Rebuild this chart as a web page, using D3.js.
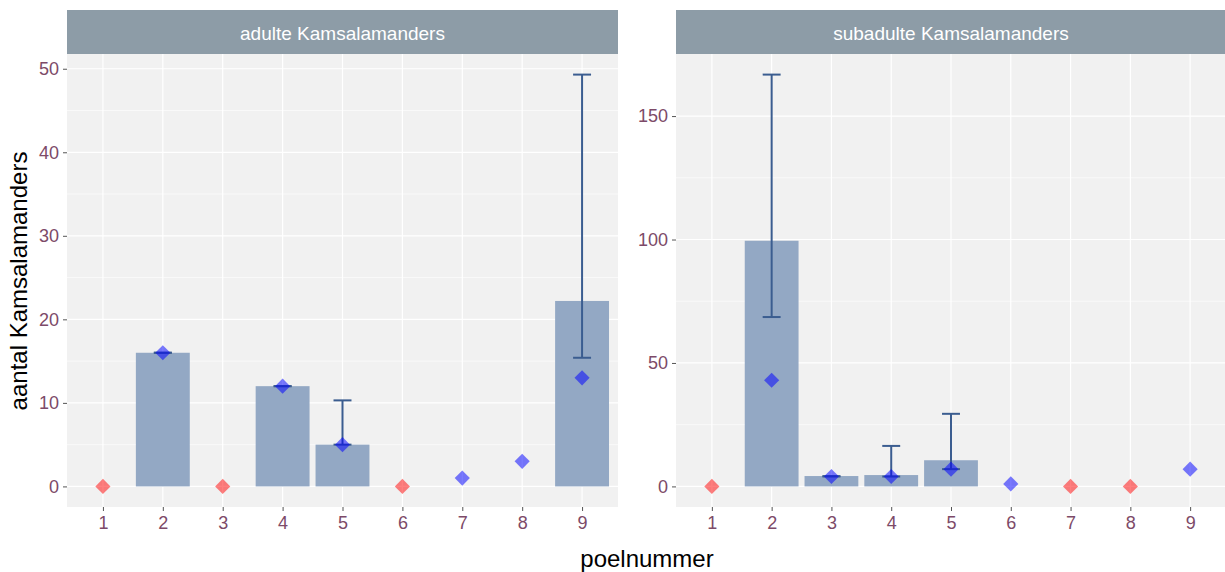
<!DOCTYPE html>
<html><head><meta charset="utf-8">
<script src="https://cdn.jsdelivr.net/npm/d3@7"></script>
<style>body{margin:0;background:#fff}svg{display:block}text{font-family:"Liberation Sans",Arial,sans-serif}</style>
</head><body>
<svg id="c" width="1225" height="572"></svg>
<script>
const poel = [1,2,3,4,5,6,7,8,9];
const panelTitles = ["adulte Kamsalamanders", "subadulte Kamsalamanders"];
const adultBar   = [0, 16, 0, 12, 5, 0, 0, 0, 22.2];
const adultLow   = [null, 16, null, 12, 5, null, null, null, 15.4];
const adultHigh  = [null, 16, null, 12, 10.3, null, null, null, 49.3];
const adultCount = [0, 16, 0, 12, 5, 0, 1, 3, 13];
const subBar   = [0, 99.5, 4.2, 4.6, 10.6, 0, 0, 0, 0];
const subLow   = [null, 68.6, 4.1, 4, 7, null, null, null, null];
const subHigh  = [null, 166.8, 4.1, 16.4, 29.4, null, null, null, null];
const subCount = [0, 43, 4, 4, 7, 1, 0, 0, 7];
const adultTicks = [0,10,20,30,40,50];
const adultMinor = [5,15,25,35,45];
const subTicks = [0,50,100,150];
const subMinor = [25,75,125];

(function(){
const svg = d3.select("#c");
const pTop = 54, pBottom = 507;
const panels = [
  {x0:67, x1:618, title:panelTitles[0], bar:adultBar, lo:adultLow, hi:adultHigh, cnt:adultCount, ticks:adultTicks, minor:adultMinor},
  {x0:676, x1:1226, title:panelTitles[1], bar:subBar, lo:subLow, hi:subHigh, cnt:subCount, ticks:subTicks, minor:subMinor}
];
const labCol = "#7d4a68";
panels.forEach(p => {
  const ymax = d3.max(p.hi.concat(p.bar, p.cnt).filter(v => v != null));
  const pad = ymax * 0.05;
  const y = d3.scaleLinear().domain([-pad, ymax + pad]).range([pBottom, pTop]);
  const x = d3.scaleLinear().domain([0.4, 9.6]).range([p.x0, p.x1]);
  const g = svg.append("g");
  g.append("rect").attr("x", p.x0).attr("y", pTop).attr("width", p.x1 - p.x0).attr("height", pBottom - pTop).attr("fill", "#f1f1f1");
  g.append("rect").attr("x", p.x0).attr("y", 10).attr("width", p.x1 - p.x0).attr("height", pTop - 10).attr("fill", "#8d9ca7");
  g.append("text").attr("x", (p.x0 + p.x1) / 2).attr("y", 33).attr("dy", "0.35em").attr("text-anchor", "middle")
    .attr("fill", "#fff").attr("font-size", 19).text(p.title);
  g.selectAll(".mi").data(p.minor).join("line").attr("x1", p.x0).attr("x2", p.x1)
    .attr("y1", d => y(d)).attr("y2", d => y(d)).attr("stroke", "#fff").attr("stroke-width", 0.6);
  g.selectAll(".ma").data(p.ticks).join("line").attr("x1", p.x0).attr("x2", p.x1)
    .attr("y1", d => y(d)).attr("y2", d => y(d)).attr("stroke", "#fff").attr("stroke-width", 1.2);
  g.selectAll(".vx").data(poel).join("line").attr("x1", d => x(d)).attr("x2", d => x(d))
    .attr("y1", pTop).attr("y2", pBottom).attr("stroke", "#fff").attr("stroke-width", 1.2);
  const ya = d3.axisLeft(y).tickValues(p.ticks).tickSize(4).tickPadding(4);
  const yg = g.append("g").attr("transform", `translate(${p.x0},0)`).call(ya);
  yg.select(".domain").remove();
  yg.selectAll(".tick line").attr("stroke", "#555");
  yg.selectAll(".tick text").attr("fill", labCol).attr("font-size", 18).attr("font-family", "Liberation Sans, Arial, sans-serif");
  const xa = d3.axisBottom(x).tickValues(poel).tickFormat(d3.format("d")).tickSize(4).tickPadding(5);
  const xg = g.append("g").attr("transform", `translate(0,${pBottom})`).call(xa);
  xg.select(".domain").remove();
  xg.selectAll(".tick line").attr("stroke", "#555");
  xg.selectAll(".tick text").attr("fill", labCol).attr("font-size", 18).attr("font-family", "Liberation Sans, Arial, sans-serif");
  const bw = x(0.9) - x(0);
  g.selectAll(".bar").data(poel.map((d,i) => ({k:d, v:p.bar[i]})).filter(d => d.v > 0)).join("rect")
    .attr("x", d => x(d.k) - bw / 2).attr("width", bw)
    .attr("y", d => y(d.v)).attr("height", d => y(0) - y(d.v)).attr("fill", "#93a8c4");
  const cw = x(0.3) - x(0);
  const eb = poel.map((d,i) => ({k:d, lo:p.lo[i], hi:p.hi[i]})).filter(d => d.lo != null);
  const ec = "#3b5d90";
  g.selectAll(".ev").data(eb).join("line").attr("x1", d => x(d.k)).attr("x2", d => x(d.k))
    .attr("y1", d => y(d.lo)).attr("y2", d => y(d.hi)).attr("stroke", ec).attr("stroke-width", 2);
  g.selectAll(".ct").data(eb).join("line").attr("x1", d => x(d.k) - cw / 2).attr("x2", d => x(d.k) + cw / 2)
    .attr("y1", d => y(d.hi)).attr("y2", d => y(d.hi)).attr("stroke", ec).attr("stroke-width", 2);
  g.selectAll(".cb").data(eb).join("line").attr("x1", d => x(d.k) - cw / 2).attr("x2", d => x(d.k) + cw / 2)
    .attr("y1", d => y(d.lo)).attr("y2", d => y(d.lo)).attr("stroke", ec).attr("stroke-width", 2);
  const sym = d3.symbol().type(d3.symbolSquare).size(115);
  g.selectAll(".pt").data(poel.map((d,i) => ({k:d, v:p.cnt[i]}))).join("path")
    .attr("d", sym).attr("transform", d => `translate(${x(d.k)},${y(d.v)}) rotate(45)`)
    .attr("fill", d => d.v > 0 ? "#0000ff" : "#ff0000").attr("fill-opacity", d => d.v > 0 ? 0.52 : 0.5);
});
svg.append("text").attr("transform", "translate(19,281) rotate(-90)").attr("text-anchor", "middle")
  .attr("dy", "0.35em").attr("font-size", 24).attr("fill", "#000").text("aantal Kamsalamanders");
svg.append("text").attr("x", 647).attr("y", 559).attr("text-anchor", "middle").attr("dy", "0.35em")
  .attr("font-size", 24).attr("fill", "#000").text("poelnummer");
})();
</script>
</body></html>
